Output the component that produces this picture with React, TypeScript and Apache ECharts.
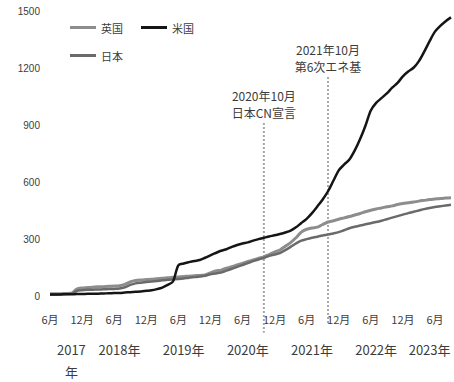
import React, { useEffect, useRef } from "react";
import * as echarts from "echarts";

// Monthly categories, 2017/06 – 2023/09
const months: string[] = [];
for (let y = 2017; y <= 2023; y++) {
  for (let m = 1; m <= 12; m++) {
    if (y === 2017 && m < 6) continue;
    if (y === 2023 && m > 9) break;
    months.push(`${y}/${String(m).padStart(2, "0")}`);
  }
}

const seriesNames = ["英国", "米国", "日本"];

const usValues = [
  12, 12, 12, 13, 13, 14, 14, 15, 15, 16, 17, 18, 19, 20, 22, 24, 26, 28, 31, 34,
  40, 48, 62, 80, 165, 175, 182, 188, 193, 205, 218, 230, 242, 250, 262, 272, 280, 286, 295, 303,
  310, 317, 323, 330, 338, 348, 365, 388, 410, 440, 475, 512, 555, 610, 665, 695, 722, 770, 830, 900,
  980, 1020, 1045, 1070, 1100, 1125, 1160, 1185, 1205, 1240, 1290, 1345, 1395, 1425, 1450, 1470,
];

const ukValues = [
  15, 15, 16, 17, 18, 40, 46, 48, 50, 52, 53, 55, 56, 58, 65, 78, 85, 88, 90, 92,
  95, 97, 100, 102, 104, 106, 108, 110, 112, 114, 125, 135, 140, 150, 158, 167, 175, 185, 193, 202,
  210, 222, 235, 246, 265, 285, 310, 340, 355, 362, 366, 380, 393, 400, 408, 415, 422, 430, 438, 447,
  455, 462, 467, 473, 478, 485, 490, 494, 498, 503, 507, 511, 514, 517, 519, 521,
];

const jpValues = [
  12, 12, 13, 14, 15, 30, 34, 36, 37, 38, 39, 40, 41, 43, 50, 62, 70, 74, 77, 80,
  83, 86, 89, 91, 93, 96, 100, 103, 106, 110, 118, 122, 127, 137, 147, 157, 167, 177, 187, 196,
  204, 215, 222, 230, 245, 262, 280, 295, 303, 310, 316, 322, 327, 333, 340, 350, 360, 368, 375, 381,
  387, 393, 400, 408, 416, 424, 432, 440, 447, 454, 461, 467, 472, 476, 480, 484,
];

const yTicks = [0, 300, 600, 900, 1200, 1500];

const yearTickMonths = ["2017/10", "2018/07", "2019/07", "2020/07", "2021/07", "2022/07", "2023/05"];
const yearTickLabels = ["2017\n年", "2018年", "2019年", "2020年", "2021年", "2022年", "2023年"];

const eventMonths = ["2020/10", "2021/10"];
const eventLabels = [
  ["2020年10月", "日本CN宣言"],
  ["2021年10月", "第6次エネ基"],
];

const textColor = "#3c3c3c";
const cjkFont = "'Noto Sans CJK JP', 'Noto Sans', sans-serif";

const legendBase = {
  left: 65,
  icon: "rect",
  itemWidth: 26,
  itemHeight: 3,
  itemGap: 18,
  textStyle: { fontSize: 11, color: textColor, fontFamily: cjkFont },
};

export default function App() {
  const ref = useRef<HTMLDivElement>(null);

  useEffect(() => {
    if (!ref.current) return;
    const chart = echarts.init(ref.current, undefined, { renderer: "svg" });

    const option: any = {
      animation: false,
      backgroundColor: "#ffffff",
      grid: { left: 50, right: 3, top: 11.7, bottom: 85.3, outerBoundsMode: "none", containLabel: false },
      legend: [
        { ...legendBase, data: [seriesNames[0], seriesNames[1]], top: 17 },
        { ...legendBase, data: [seriesNames[2]], top: 45 },
      ],
      xAxis: [
        {
          type: "category",
          data: months,
          boundaryGap: false,
          axisLine: { show: false },
          axisTick: { show: false },
          splitLine: { show: false },
          axisLabel: {
            margin: 17,
            fontSize: 11,
            color: textColor,
            fontFamily: cjkFont,
            interval: (_i: number, v: string) => v.endsWith("/06") || v.endsWith("/12"),
            formatter: (v: string) => `${Number(v.slice(5))}月`,
          },
        },
        {
          type: "category",
          data: months,
          boundaryGap: false,
          position: "bottom",
          axisLine: { show: false },
          axisTick: { show: false },
          splitLine: { show: false },
          axisLabel: {
            margin: 42,
            fontSize: 13,
            lineHeight: 22,
            color: textColor,
            fontFamily: cjkFont,
            interval: (_i: number, v: string) => yearTickMonths.includes(v),
            formatter: (v: string) => yearTickLabels[yearTickMonths.indexOf(v)] ?? "",
          },
        },
      ],
      yAxis: {
        type: "value",
        min: yTicks[0],
        max: yTicks[yTicks.length - 1],
        interval: 300,
        axisLine: { show: false },
        axisTick: { show: false },
        splitLine: { show: false },
        axisLabel: {
          margin: 10,
          fontSize: 10,
          color: textColor,
          fontFamily: "'Liberation Sans', sans-serif",
          formatter: (v: number) => String(v),
        },
      },
      series: [
        {
          name: seriesNames[0],
          type: "line",
          data: ukValues,
          symbol: "none",
          smooth: 0.3,
          lineStyle: { color: "#8d8d8d", width: 3 },
          itemStyle: { color: "#8d8d8d" },
          z: 2,
        },
        {
          name: seriesNames[1],
          type: "line",
          data: usValues,
          symbol: "none",
          smooth: 0.3,
          lineStyle: { color: "#151515", width: 2.5 },
          itemStyle: { color: "#151515" },
          z: 3,
        },
        {
          name: seriesNames[2],
          type: "line",
          data: jpValues,
          symbol: "none",
          smooth: 0.3,
          lineStyle: { color: "#6a6a6a", width: 2.5 },
          itemStyle: { color: "#6a6a6a" },
          z: 2,
        },
      ],
    };
    chart.setOption(option);

    // Event markers: dotted verticals with their captions, placed through the axes
    const topValues = [914, 1156];
    const bottomValues = [-190, -140];
    const graphics: any[] = [];
    eventMonths.forEach((m, i) => {
      const top = chart.convertToPixel({ xAxisIndex: 0, yAxisIndex: 0 }, [m, topValues[i]]) as number[];
      const bot = chart.convertToPixel({ xAxisIndex: 0, yAxisIndex: 0 }, [m, bottomValues[i]]) as number[];
      graphics.push({
        type: "line",
        z: 1,
        shape: { x1: top[0], y1: top[1], x2: bot[0], y2: bot[1] },
        style: { stroke: "#a8a8a8", lineWidth: 2, lineDash: [2, 2] },
      });
      eventLabels[i].forEach((line, j) => {
        graphics.push({
          type: "text",
          z: 5,
          x: top[0],
          y: top[1] - 5 - (eventLabels[i].length - 1 - j) * 17,
          style: {
            text: line,
            fill: textColor,
            fontSize: 12,
            fontFamily: cjkFont,
            align: "center",
            verticalAlign: "bottom",
          },
        });
      });
    });
    chart.setOption({ graphic: graphics });

    return () => chart.dispose();
  }, []);

  return <div ref={ref} style={{ width: 454, height: 382, position: "absolute", left: 0, top: 0 }} />;
}
